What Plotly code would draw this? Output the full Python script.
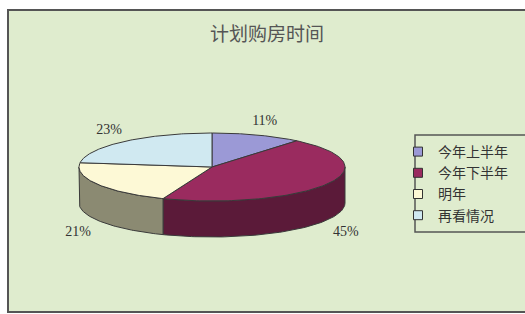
import numpy as np
import plotly.graph_objects as go

# ---- data ----
categories = ["今年上半年", "今年下半年", "明年", "再看情况"]
values = [11, 45, 21, 23]
title_text = "计划购房时间"

# ---- style ----
top_colors = ["#9b99d6", "#9a2b5f", "#fdf9d6", "#d0e9f1"]
side_colors = ["#5f5c8c", "#5b1a39", "#8b8a72", "#7f9aa3"]
edge = "#3a3a3a"
bg = "#dfecce"
W, H = 525, 314
cx, cy, rx, ry, depth = 212, 167, 133, 34, 36

fig = go.Figure()

total = sum(values)
bounds = np.cumsum([0] + values) / total * 360.0

def pt(theta_deg, dy=0.0, sx=1.0, sy=1.0):
    t = np.radians(theta_deg)
    return cx + rx * sx * np.sin(t), cy - ry * sy * np.cos(t) + dy

# side walls (front half: 90..270 deg)
for i in range(len(values)):
    a0, a1 = bounds[i], bounds[i + 1]
    s0, s1 = max(a0, 90), min(a1, 270)
    if s1 <= s0:
        continue
    th = np.linspace(s0, s1, 80)
    xt, yt = pt(th)
    xb, yb = pt(th[::-1], dy=depth)
    xs = np.concatenate([xt, xb, xt[:1]])
    ys = np.concatenate([yt, yb, yt[:1]])
    fig.add_trace(go.Scatter(x=xs, y=ys, mode="lines", fill="toself",
                             fillcolor=side_colors[i],
                             line=dict(color=edge, width=1),
                             hoverinfo="skip", showlegend=False))

# top faces
for i in range(len(values)):
    a0, a1 = bounds[i], bounds[i + 1]
    th = np.linspace(a0, a1, 120)
    xa, ya = pt(th)
    xs = np.concatenate([[cx], xa, [cx]])
    ys = np.concatenate([[cy], ya, [cy]])
    fig.add_trace(go.Scatter(x=xs, y=ys, mode="lines", fill="toself",
                             fillcolor=top_colors[i],
                             line=dict(color=edge, width=1),
                             hoverinfo="skip", showlegend=False))

# percentage labels
lx, ly, lt = [], [], []
for i, v in enumerate(values):
    mid = (bounds[i] + bounds[i + 1]) / 2
    c = np.cos(np.radians(mid))
    x, y = pt(mid, dy=(depth + 5) if c < 0 else 0, sx=1.17, sy=1.42)
    lx.append(x); ly.append(y); lt.append(f"{v}%")
fig.add_trace(go.Scatter(x=lx, y=ly, mode="text", text=lt,
                         textfont=dict(family="Liberation Serif, DejaVu Serif, serif",
                                       size=14, color="#333333"),
                         hoverinfo="skip", showlegend=False))

# legend entries
for name, col in zip(categories, top_colors):
    fig.add_trace(go.Scatter(x=[None], y=[None], mode="markers", name=name,
                             marker=dict(symbol="square", size=9, color=col,
                                         line=dict(color="#333333", width=1))))

fig.update_layout(
    width=W, height=H, autosize=False,
    margin=dict(l=0, r=0, t=0, b=0, pad=0),
    paper_bgcolor="white", plot_bgcolor="white",
    xaxis=dict(range=[0, W], visible=False, fixedrange=True),
    yaxis=dict(range=[H, 0], visible=False, fixedrange=True),
    title=dict(text=title_text, x=267 / W, y=1 - 34 / H,
               xanchor="center", yanchor="middle",
               font=dict(family="Noto Sans CJK SC", size=19, color="#555555")),
    legend=dict(x=398 / W, y=1 - 136 / H,
                xanchor="left", yanchor="top",
                bgcolor="rgba(0,0,0,0)", borderwidth=0,
                font=dict(family="Noto Sans CJK SC", size=14, color="#333333"),
                itemclick=False, itemdoubleclick=False),
    shapes=[
        dict(type="rect", xref="x", yref="y", x0=8, y0=10, x1=W + 5, y1=312,
             fillcolor=bg, line=dict(color="#555555", width=2), layer="below"),
        dict(type="rect", xref="x", yref="y", x0=415, y0=135, x1=W + 5, y1=232,
             fillcolor="rgba(0,0,0,0)", line=dict(color="#555555", width=1.5),
             layer="below"),
    ],
    showlegend=True,
)

fig.write_html("out.html",
               config={"displayModeBar": False, "staticPlot": True},
               post_script="document.body.style.margin='0';"
                           "document.body.style.overflow='hidden';")
